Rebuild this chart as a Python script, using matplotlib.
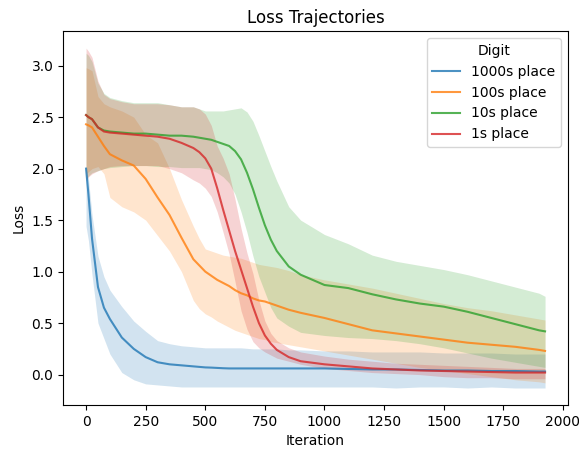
import numpy as np
import matplotlib.pyplot as plt

iters = [0, 10, 25, 50, 75, 100, 150, 200, 250, 300, 350, 400, 450, 475, 500, 525, 550, 575, 600, 625, 650,
         675, 700, 725, 750, 775, 800, 850, 900, 1000, 1100, 1200, 1300, 1400, 1500, 1600, 1700, 1800, 1900, 1925]

digits = ["1000s place", "100s place", "10s place", "1s place"]

# mean loss per digit
loss_1000 = [2.00, 1.75, 1.32, 0.85, 0.65, 0.54, 0.36, 0.25, 0.17, 0.12, 0.10, 0.09, 0.08, 0.075, 0.07, 0.068, 0.065, 0.062, 0.06, 0.06, 0.06,
             0.06, 0.06, 0.06, 0.06, 0.06, 0.06, 0.06, 0.06, 0.06, 0.055, 0.05, 0.05, 0.045, 0.04, 0.04, 0.035, 0.035, 0.03, 0.03]
loss_100 = [2.43, 2.42, 2.40, 2.31, 2.22, 2.14, 2.08, 2.03, 1.90, 1.72, 1.55, 1.33, 1.12, 1.06, 1.00, 0.96, 0.92, 0.89, 0.86, 0.82, 0.79,
            0.77, 0.74, 0.72, 0.71, 0.69, 0.67, 0.63, 0.60, 0.55, 0.49, 0.43, 0.40, 0.37, 0.34, 0.31, 0.29, 0.27, 0.24, 0.23]
loss_10 = [2.52, 2.50, 2.48, 2.40, 2.37, 2.36, 2.35, 2.34, 2.34, 2.33, 2.32, 2.32, 2.31, 2.30, 2.29, 2.28, 2.26, 2.24, 2.22, 2.17, 2.09,
           1.96, 1.80, 1.62, 1.45, 1.31, 1.20, 1.05, 0.97, 0.87, 0.84, 0.78, 0.73, 0.69, 0.66, 0.61, 0.55, 0.49, 0.43, 0.42]
loss_1 = [2.52, 2.50, 2.48, 2.40, 2.36, 2.35, 2.34, 2.33, 2.32, 2.31, 2.29, 2.25, 2.20, 2.16, 2.10, 2.00, 1.81, 1.60, 1.40, 1.20, 1.02,
          0.84, 0.66, 0.50, 0.38, 0.30, 0.24, 0.17, 0.13, 0.10, 0.08, 0.06, 0.05, 0.04, 0.035, 0.03, 0.025, 0.02, 0.02, 0.02]

# band edges
hi_1000 = [2.00, 1.90, 1.55, 1.15, 0.95, 0.82, 0.66, 0.52, 0.42, 0.33, 0.30, 0.28, 0.27, 0.265, 0.26, 0.26, 0.26, 0.26, 0.26, 0.26, 0.26,
           0.255, 0.25, 0.25, 0.25, 0.25, 0.25, 0.24, 0.24, 0.23, 0.23, 0.22, 0.22, 0.22, 0.21, 0.21, 0.21, 0.20, 0.20, 0.20]
lo_1000 = [1.44, 1.30, 0.97, 0.50, 0.35, 0.20, 0.02, -0.05, -0.09, -0.10, -0.11, -0.12, -0.12, -0.12, -0.12, -0.12, -0.12, -0.12, -0.12, -0.12, -0.12,
           -0.12, -0.12, -0.12, -0.12, -0.12, -0.12, -0.12, -0.12, -0.12, -0.12, -0.12, -0.13, -0.12, -0.12, -0.13, -0.12, -0.13, -0.13, -0.13]
hi_100 = [2.98, 2.97, 2.95, 2.70, 2.63, 2.60, 2.56, 2.50, 2.33, 2.25, 2.00, 1.70, 1.44, 1.32, 1.22, 1.20, 1.18, 1.16, 1.15, 1.14, 1.13,
          1.11, 1.09, 1.07, 1.06, 1.05, 1.04, 1.01, 0.97, 0.92, 0.88, 0.84, 0.79, 0.74, 0.69, 0.65, 0.62, 0.58, 0.54, 0.53]
lo_100 = [1.95, 1.97, 2.00, 2.02, 1.95, 1.72, 1.63, 1.58, 1.50, 1.35, 1.20, 1.00, 0.72, 0.64, 0.59, 0.56, 0.52, 0.49, 0.46, 0.43, 0.41,
          0.39, 0.37, 0.35, 0.34, 0.32, 0.31, 0.29, 0.27, 0.23, 0.19, 0.15, 0.11, 0.07, 0.04, 0.01, -0.02, -0.05, -0.07, -0.08]
hi_10 = [3.12, 3.10, 3.04, 2.83, 2.73, 2.69, 2.66, 2.64, 2.64, 2.64, 2.62, 2.60, 2.60, 2.58, 2.56, 2.56, 2.56, 2.56, 2.57, 2.58, 2.59,
         2.55, 2.46, 2.32, 2.17, 2.02, 1.88, 1.63, 1.50, 1.36, 1.27, 1.16, 1.10, 1.06, 1.02, 0.97, 0.91, 0.85, 0.79, 0.76]
lo_10 = [1.90, 1.93, 1.96, 1.98, 2.00, 2.01, 2.02, 2.03, 2.03, 2.02, 2.02, 2.01, 2.01, 2.01, 2.00, 1.99, 1.96, 1.92, 1.86, 1.75, 1.58,
         1.38, 1.15, 0.95, 0.80, 0.65, 0.55, 0.47, 0.41, 0.38, 0.36, 0.35, 0.33, 0.30, 0.26, 0.21, 0.16, 0.12, 0.08, 0.07]
hi_1 = [3.17, 3.14, 3.08, 2.85, 2.72, 2.68, 2.65, 2.63, 2.63, 2.63, 2.62, 2.60, 2.60, 2.58, 2.53, 2.42, 2.22, 2.10, 1.95, 1.70, 1.42,
        1.18, 0.98, 0.72, 0.52, 0.40, 0.33, 0.26, 0.22, 0.18, 0.15, 0.13, 0.11, 0.10, 0.09, 0.08, 0.07, 0.06, 0.06, 0.06]
lo_1 = [1.88, 1.92, 1.95, 1.98, 2.00, 2.02, 2.03, 2.03, 2.03, 2.03, 2.00, 1.96, 1.89, 1.86, 1.81, 1.73, 1.58, 1.38, 1.17, 0.90, 0.62,
        0.44, 0.32, 0.26, 0.22, 0.19, 0.16, 0.13, 0.10, 0.06, 0.04, 0.02, 0.01, 0.00, -0.02, -0.03, -0.03, -0.04, -0.04, -0.04]

means = [loss_1000, loss_100, loss_10, loss_1]
highs = [hi_1000, hi_100, hi_10, hi_1]
lows = [lo_1000, lo_100, lo_10, lo_1]
colors = ["tab:blue", "tab:orange", "tab:green", "tab:red"]

fig = plt.figure(figsize=(5.79, 4.51), dpi=100)
ax = fig.add_axes([0.109, 0.102, 0.872, 0.829])

for name, m, hi, lo, c in zip(digits, means, highs, lows, colors):
    ax.plot(iters, m, color=c, lw=1.5, alpha=0.8, label=name)
    ax.fill_between(iters, lo, hi, color=c, alpha=0.2, lw=0)

ax.set_xticks([0, 250, 500, 750, 1000, 1250, 1500, 1750, 2000])
ax.set_title("Loss Trajectories")
ax.set_xlabel("Iteration")
ax.set_ylabel("Loss")
ax.legend(title="Digit", loc="upper right")

fig.savefig("out.png", dpi=100)
